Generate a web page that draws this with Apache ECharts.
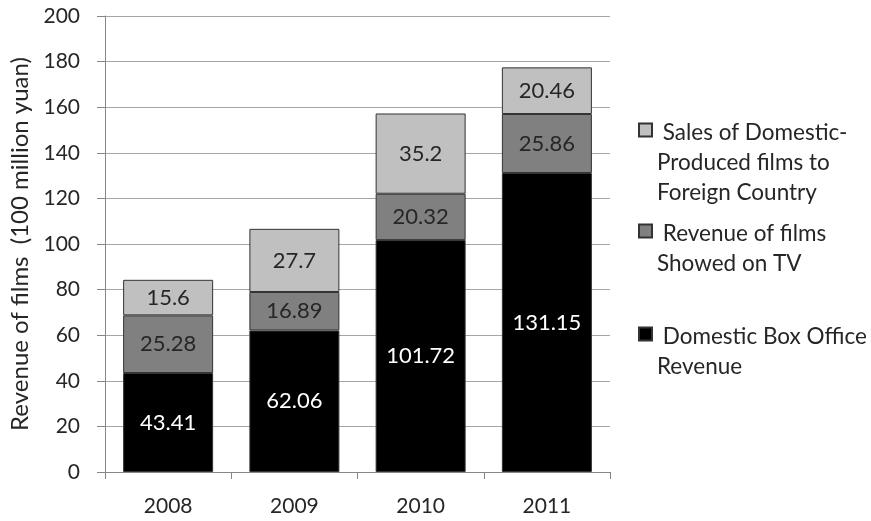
<!DOCTYPE html>
<html>
<head>
<meta charset="utf-8">
<script src="https://cdn.jsdelivr.net/npm/echarts@6/dist/echarts.min.js"></script>
<style>html,body{margin:0;padding:0;background:#fff;}#c{width:871px;height:521px;}</style>
</head>
<body>
<div id="c"></div>
<script>
const categories = ['2008', '2009', '2010', '2011'];
const boxOffice = [43.41, 62.06, 101.72, 131.15];
const tvRevenue = [25.28, 16.89, 20.32, 25.86];
const foreignSales = [15.6, 27.7, 35.2, 20.46];
const yTicks = [0, 20, 40, 60, 80, 100, 120, 140, 160, 180, 200];

const seriesNames = {
  box: 'Domestic Box Office\nRevenue',
  tv: 'Revenue of films\nShowed on TV',
  sales: 'Sales of Domestic-\nProduced films to\nForeign Country'
};

const FONT = 'Lato, sans-serif';
const TXT = '#262626';

function legendAt(name, top, lines) {
  const h = lines === 3 ? 79 : 49;
  return {
    data: [name],
    orient: 'vertical',
    left: 638,
    top: top,
    padding: 0,
    itemWidth: 13,
    itemHeight: h,
    icon: 'path://M0,0L13,0L13,13L0,13ZM0,' + h + 'L0,' + h,
    selectedMode: false,
    formatter: function (n) { return ' ' + n; },
    textStyle: { fontFamily: FONT, fontSize: 22.5, color: TXT, lineHeight: 30 }
  };
}

const chart = echarts.init(document.getElementById('c'));
const lbl = (color) => ({
  show: true, position: 'inside', color: color, fontFamily: FONT, fontSize: 22,
  formatter: (p) => String(p.value)
});
chart.setOption({
  animation: false,
  backgroundColor: '#fff',
  grid: { left: 105, top: 16, right: 261, bottom: 49, containLabel: false },
  legend: [
    legendAt(seriesNames.sales, 118, 3),
    legendAt(seriesNames.tv, 219, 2),
    legendAt(seriesNames.box, 322, 2)
  ],
  xAxis: {
    type: 'category',
    data: categories,
    axisLine: { lineStyle: { color: '#868686', width: 1 } },
    axisTick: { show: true, length: 7, alignWithLabel: false, lineStyle: { color: '#868686' } },
    axisLabel: { color: TXT, fontFamily: FONT, fontSize: 21, margin: 24 }
  },
  yAxis: {
    type: 'value',
    min: yTicks[0],
    max: yTicks[yTicks.length - 1],
    interval: yTicks[1] - yTicks[0],
    name: 'Revenue of films  (100 million yuan)',
    nameLocation: 'middle',
    nameGap: 70,
    nameTextStyle: { color: TXT, fontFamily: FONT, fontSize: 24 },
    axisLine: { show: true, lineStyle: { color: '#868686', width: 1 } },
    axisTick: { show: true, length: 8, lineStyle: { color: '#868686' } },
    axisLabel: { color: TXT, fontFamily: FONT, fontSize: 21, margin: 25 },
    splitLine: { show: true, lineStyle: { color: '#a6a6a6', width: 1 } }
  },
  series: [
    {
      name: seriesNames.box, type: 'bar', stack: 'total', data: boxOffice,
      barWidth: 90,
      itemStyle: { color: '#000000', borderColor: '#333333', borderWidth: 1 },
      label: lbl('#ffffff')
    },
    {
      name: seriesNames.tv, type: 'bar', stack: 'total', data: tvRevenue,
      barWidth: 90,
      itemStyle: { color: '#808080', borderColor: '#333333', borderWidth: 1 },
      label: lbl(TXT)
    },
    {
      name: seriesNames.sales, type: 'bar', stack: 'total', data: foreignSales,
      barWidth: 90,
      itemStyle: { color: '#c0c0c0', borderColor: '#333333', borderWidth: 1 },
      label: lbl(TXT)
    }
  ]
});
</script>
</body>
</html>
